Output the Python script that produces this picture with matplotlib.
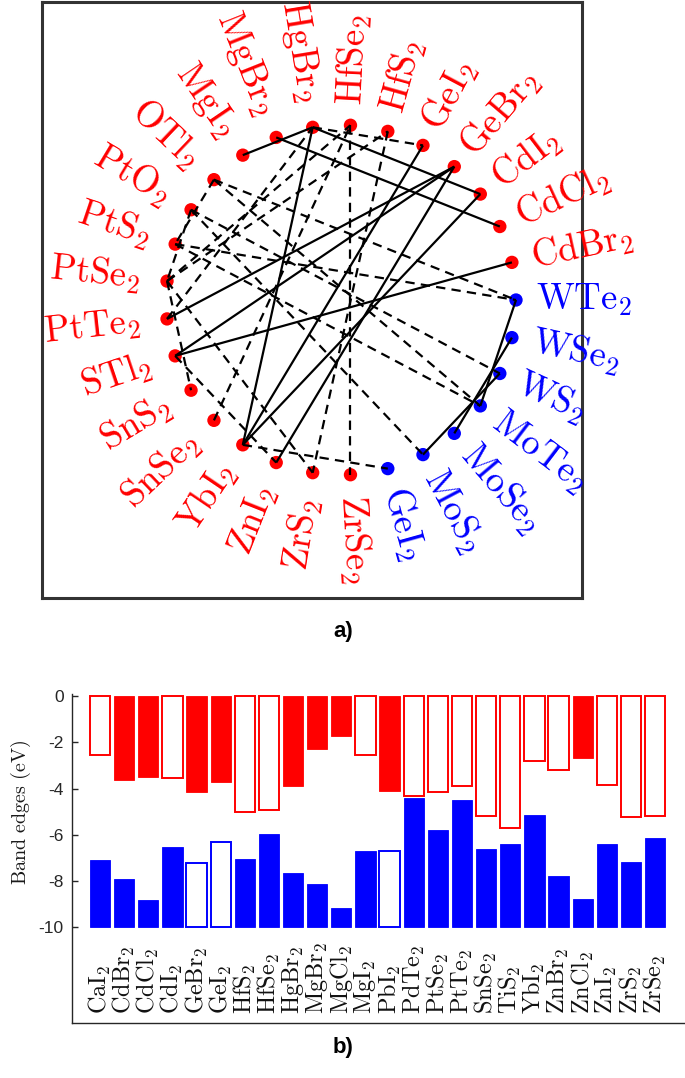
import re
import numpy as np
import matplotlib
matplotlib.use("Agg")
import matplotlib.pyplot as plt

plt.rcParams['mathtext.fontset'] = 'cm'

# ---------------- panel a) data ----------------
# nodes in counter-clockwise order around the circle (first one at 0 deg)
node_names = ['WTe2', 'CdBr2', 'CdCl2', 'CdI2', 'GeBr2', 'GeI2', 'HfS2', 'HfSe2',
              'HgBr2', 'MgBr2', 'MgI2', 'OTl2', 'PtO2', 'PtS2', 'PtSe2', 'PtTe2',
              'STl2', 'SnS2', 'SnSe2', 'YbI2', 'ZnI2', 'ZrS2', 'ZrSe2',
              'GeI2*', 'MoS2', 'MoSe2', 'MoTe2', 'WS2', 'WSe2']
node_group = ['blue', 'red', 'red', 'red', 'red', 'red', 'red', 'red',
              'red', 'red', 'red', 'red', 'red', 'red', 'red', 'red',
              'red', 'red', 'red', 'red', 'red', 'red', 'red',
              'blue', 'blue', 'blue', 'blue', 'blue', 'blue']

solid_edges = [('MgI2', 'HgBr2'), ('HgBr2', 'CdI2'), ('MgBr2', 'CdCl2'),
               ('HgBr2', 'YbI2'), ('PtTe2', 'GeBr2'), ('STl2', 'GeBr2'),
               ('STl2', 'CdBr2'), ('YbI2', 'GeI2'), ('YbI2', 'CdI2'),
               ('ZnI2', 'GeBr2'), ('MoTe2', 'WTe2'), ('MoSe2', 'WSe2'),
               ('MoS2', 'WS2')]

dashed_edges = [('HfSe2', 'ZrSe2'), ('HfS2', 'ZrS2'), ('OTl2', 'WTe2'),
                ('PtS2', 'WTe2'), ('PtO2', 'WS2'), ('PtS2', 'MoTe2'),
                ('OTl2', 'MoTe2'), ('PtO2', 'MoS2'), ('YbI2', 'GeI2*'),
                ('SnSe2', 'HfSe2'), ('HgBr2', 'GeI2'), ('PtSe2', 'SnS2'),
                ('PtSe2', 'ZrS2'), ('PtSe2', 'HfSe2'), ('STl2', 'ZnI2'),
                ('PtTe2', 'HgBr2'), ('OTl2', 'PtS2'), ('PtO2', 'PtSe2'),
                ('PtSe2', 'HfS2')]

# ---------------- panel b) data ----------------
materials = ['CaI2', 'CdBr2', 'CdCl2', 'CdI2', 'GeBr2', 'GeI2', 'HfS2', 'HfSe2',
             'HgBr2', 'MgBr2', 'MgCl2', 'MgI2', 'PbI2', 'PdTe2', 'PtSe2', 'PtTe2',
             'SnSe2', 'TiS2', 'YbI2', 'ZnBr2', 'ZnCl2', 'ZnI2', 'ZrS2', 'ZrSe2']
cbm = [-2.55, -3.63, -3.51, -3.56, -4.16, -3.73, -5.00, -4.91,
       -3.90, -2.30, -1.74, -2.55, -4.09, -4.32, -4.13, -3.89,
       -5.17, -5.69, -2.81, -3.20, -2.68, -3.84, -5.21, -5.18]
vbm = [-7.07, -7.91, -8.83, -6.54, -7.20, -6.32, -7.03, -5.98,
       -7.63, -8.12, -9.17, -6.68, -6.68, -4.39, -5.80, -4.48,
       -6.60, -6.38, -5.15, -7.78, -8.76, -6.39, -7.16, -6.12]
cbm_filled = [0, 1, 1, 0, 1, 1, 0, 0, 1, 1, 1, 0, 1, 0, 0, 0, 0, 0, 0, 0, 1, 0, 0, 0]
vbm_filled = [1, 1, 1, 1, 0, 0, 1, 1, 1, 1, 1, 1, 0, 1, 1, 1, 1, 1, 1, 1, 1, 1, 1, 1]
yticks = [0, -2, -4, -6, -8, -10]


def tex(name):
    base = name.rstrip('*')
    return r'$\mathrm{' + re.sub(r'(\d)', r'_{\1}', base) + '}$'


COL = {'red': '#ff0000', 'blue': '#0000ff'}
W, H = 685, 1078
fig = plt.figure(figsize=(W / 100, H / 100), dpi=100)

# ---------------- panel a) ----------------
axa = fig.add_axes([42 / W, 1 - 598 / H, 540 / W, 596 / H])
axa.set_xlim((42 - 341) / 175, (582 - 341) / 175)
axa.set_ylim(-(598 - 300) / 175, (300 - 2) / 175)
axa.set_xticks([])
axa.set_yticks([])
for s in axa.spines.values():
    s.set_linewidth(2.2)
    s.set_color('#333333')

N = len(node_names)
theta = 2 * np.pi * np.arange(N) / N
px, py = np.cos(theta), np.sin(theta)
idx = {n: i for i, n in enumerate(node_names)}

for a, b in solid_edges:
    i, j = idx[a], idx[b]
    axa.plot([px[i], px[j]], [py[i], py[j]], color='black', lw=1.6,
             solid_capstyle='butt', zorder=3)
for a, b in dashed_edges:
    i, j = idx[a], idx[b]
    axa.plot([px[i], px[j]], [py[i], py[j]], color='black', lw=1.6,
             linestyle=(0, (4.2, 2.8)), dash_capstyle='butt', zorder=3)

axa.scatter(px, py, s=9.6 ** 2, c=[COL[g] for g in node_group], zorder=2,
            linewidths=0)

for i, n in enumerate(node_names):
    ang = np.degrees(theta[i])
    c = np.cos(theta[i])
    if c >= 0:
        r = 1.115
        rot, ha = ang, 'left'
    else:
        r = 1.15
        rot, ha = ang - 180, 'right'
    axa.text(r * px[i], r * py[i], tex(n), rotation=rot, rotation_mode='anchor',
             ha=ha, va='center', fontsize=26.5, color=COL[node_group[i]],
             clip_on=False)

fig.text(343 / W, 1 - 632 / H, 'a)', ha='center', va='center', fontsize=16,
         fontweight='bold', family='Liberation Sans')

# ---------------- panel b) ----------------
axb = fig.add_axes([72 / W, 55 / H, (684 - 72) / W, (1023 - 693.7) / H])
axb.set_ylim(-14.13, 0.1)
axb.set_xlim(-0.159, 25.2)
pos = np.arange(1, len(materials) + 1)
bw = 0.84
for k, p in enumerate(pos):
    if cbm_filled[k]:
        axb.bar(p, cbm[k], bottom=0, width=bw, color=COL['red'],
                edgecolor=COL['red'], linewidth=0.6)
    else:
        axb.bar(p, cbm[k], bottom=0, width=bw, color='white',
                edgecolor=COL['red'], linewidth=1.4)
    if vbm_filled[k]:
        axb.bar(p, vbm[k] + 10, bottom=-10, width=bw, color=COL['blue'],
                edgecolor=COL['blue'], linewidth=0.6)
    else:
        axb.bar(p, vbm[k] + 10, bottom=-10, width=bw, color='white',
                edgecolor=COL['blue'], linewidth=1.4)

for k, p in enumerate(pos):
    axb.text(p, -13.76, tex(materials[k]), rotation=90, ha='center',
             va='bottom', fontsize=17.5, color='#111111')

axb.set_xticks([])
axb.set_yticks(yticks)
axb.set_yticklabels([str(v) for v in yticks], family='Liberation Sans')
axb.tick_params(axis='y', direction='in', length=4, width=1,
                colors='#262626', labelsize=12.5, pad=6)
for side in ['top', 'right']:
    axb.spines[side].set_visible(False)
for side in ['left', 'bottom']:
    axb.spines[side].set_color('#262626')
    axb.spines[side].set_linewidth(1.0)

fig.text(21 / W, 1 - 812 / H, r'$\mathrm{Band\ edges\ (eV)}$', rotation=90,
         ha='center', va='center', fontsize=14.5, color='#1a1a1a')

fig.text(343 / W, 1 - 1047 / H, 'b)', ha='center', va='center', fontsize=16,
         fontweight='bold', family='Liberation Sans')

fig.savefig('out.png', dpi=100)
